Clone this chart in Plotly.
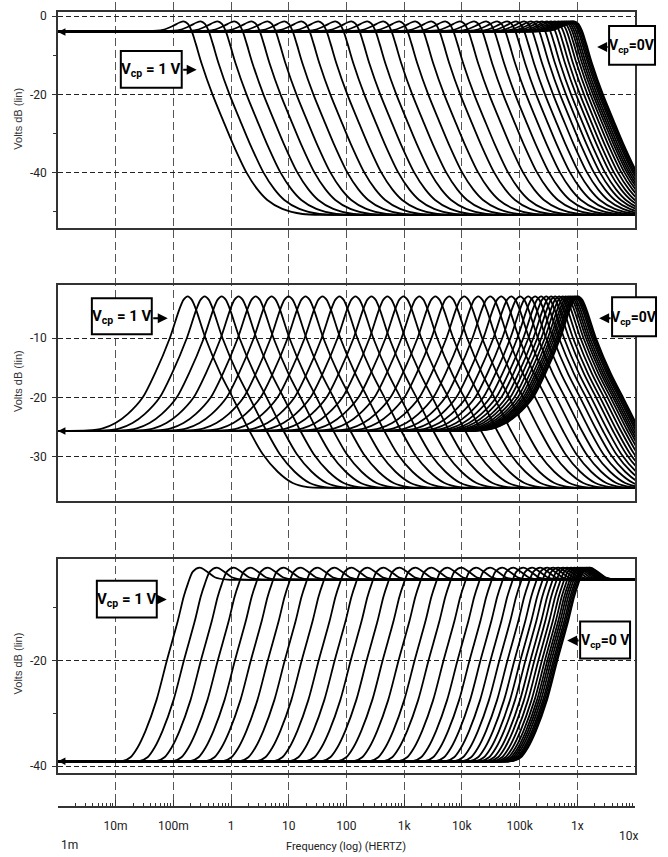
import plotly.graph_objects as go

W, H = 668, 857

# ---------------- data ----------------
# centre / cut-off frequency of every swept curve (Vcp = 1 V ... 0 V)
CENTER_HZ = [0.177, 0.349, 0.688, 1.35, 2.67, 5.04, 9.92, 19.5, 38.4, 75.6,
             143, 271, 512, 969, 1830, 3470, 6050, 11000, 19200, 31000,
             48000, 71600, 102000, 141000, 186000, 236000, 289000, 352000,
             413000, 484000, 557000, 628000, 693000, 751000, 813000, 880000,
             934000, 992000, 1032000]

# measured response shape (offset in decades from the centre frequency, dB)
LP_OFFSET_DEC = [-10, -1.5, -0.70, -0.43, -0.26, -0.14, -0.07, 0.0, 0.07, 0.14,
                 0.24, 0.43, 0.61, 0.78, 1.02, 1.21, 1.38, 1.64, 1.99, 2.42, 3.5, 10]
LP_DB = [-3.85, -3.85, -3.85, -3.5, -2.5, -1.6, -1.3, -1.9, -3.8, -7.0,
         -12.0, -20.0, -26.5, -32.5, -40.0, -44.3, -47.0, -49.3, -50.6, -50.8, -50.8, -50.8]

BP_OFFSET_DEC = [-10, -3.0, -1.73, -1.47, -1.25, -1.04, -0.78, -0.57, -0.31, -0.15,
                 -0.07, 0.0, 0.07, 0.15, 0.31, 0.57, 0.78, 1.07, 1.30, 1.56,
                 1.82, 2.08, 2.42, 3.5, 10]
BP_DB = [-25.6, -25.6, -25.55, -25.2, -24.3, -22.8, -20.0, -16.0, -10.0, -5.3,
         -3.5, -2.94, -3.5, -5.3, -10.0, -16.0, -20.0, -25.6, -29.5, -32.5,
         -34.4, -35.1, -35.2, -35.2, -35.2]

HP_OFFSET_DEC = [-10, -2.0, -1.12, -0.99, -0.87, -0.73, -0.54, -0.36, -0.17, -0.07,
                 0.0, 0.09, 0.21, 0.35, 0.48, 0.69, 1.5, 10]
HP_DB = [-39.06, -39.06, -39.0, -38.3, -36.5, -33.3, -27.5, -20.0, -12.5, -8.0,
         -5.6, -3.2, -2.45, -3.3, -4.3, -4.7, -4.7, -4.7]

X_TICK_HZ = [1e-2, 1e-1, 1, 10, 100, 1e3, 1e4, 1e5, 1e6, 1e7]
X_TICK_TEXT = ["10m", "100m", "1", "10", "100", "1k", "10k", "100k", "1x", " "]

P1_TICKS = [0, -20, -40]
P2_TICKS = [-10, -20, -30]
P3_TICKS = [-20, -40]

LABEL_1V = "<b>V<sub>cp</sub> = 1 V</b>"
LABEL_0V = "<b>V<sub>cp</sub>=0V</b>"
LABEL_0V_SP = "<b>V<sub>cp</sub>=0 V</b>"

# ---------------- layout helpers ----------------
def pxx(x):
    return x / W

def pxy(y):
    return 1 - y / H

LABFONT = "Roboto, Liberation Sans, sans-serif"
XDOM = [pxx(58), pxx(636)]
LINEC = "#333333"

fig = go.Figure()

# carrier subplot for the full-height vertical grid and the frequency axis
fig.add_trace(go.Scatter(x=[1e-3, 1e7], y=[0, 0], mode="lines",
                         line=dict(color="rgba(0,0,0,0)"), hoverinfo="skip",
                         showlegend=False, xaxis="x", yaxis="y"))

panels = [
    ("x2", "y2", LP_OFFSET_DEC, LP_DB),
    ("x3", "y3", BP_OFFSET_DEC, BP_DB),
    ("x4", "y4", HP_OFFSET_DEC, HP_DB),
]
for xa, ya, offs, dbs in panels:
    for fc in CENTER_HZ:
        fig.add_trace(go.Scatter(
            x=[fc * 10 ** o for o in offs], y=dbs, mode="lines",
            line=dict(color="black", width=1.8, shape="spline", smoothing=0.8),
            hoverinfo="skip", showlegend=False, xaxis=xa, yaxis=ya))

common_x = dict(type="log", range=[-3, 7], domain=XDOM)

layout = dict(
    width=W, height=H, margin=dict(l=0, r=0, t=0, b=0),
    paper_bgcolor="white", plot_bgcolor="rgba(0,0,0,0)", showlegend=False,
    xaxis=dict(**common_x, anchor="y", tickmode="array", tickvals=X_TICK_HZ,
               ticktext=X_TICK_TEXT, showgrid=True, gridcolor="#555555",
               griddash="8px,4px", gridwidth=1, showline=True, linecolor=LINEC,
               linewidth=1.5, ticks="inside", ticklen=6, tickcolor=LINEC,
               tickfont=dict(family=LABFONT, size=12, color="#222222"),
               ticklabelstandoff=8, zeroline=False,
               minor=dict(dtick="D1", ticks="inside", ticklen=3, tickcolor=LINEC,
                          showgrid=False)),
    yaxis=dict(domain=[pxy(806), 1.0], range=[0, 1], visible=False),
)

panel_geom = [
    (10, 227, [-54.3, 1.1], P1_TICKS, [-10, -30, -50]),
    (284, 500, [-37.4, -1.09], P2_TICKS, []),
    (558, 773, [-41.32, -0.75], P3_TICKS, [-10, -30]),
]
for i, (top, bot, rng, tv, minor_v) in enumerate(panel_geom):
    n = i + 2
    layout[f"xaxis{n}"] = dict(**common_x, anchor=f"y{n}", showgrid=False,
                               showticklabels=False, ticks="", showline=True,
                               mirror=True, linecolor=LINEC, linewidth=1.5,
                               zeroline=False)
    ydict = dict(domain=[pxy(bot), pxy(top)], range=rng, anchor=f"x{n}",
                 tickmode="array", tickvals=tv, ticktext=[str(v) for v in tv],
                 showgrid=True, gridcolor="#222222", griddash="5px,3px",
                 gridwidth=1, showline=True, mirror=True, linecolor=LINEC,
                 linewidth=1.5, ticks="outside", ticklen=4, tickcolor=LINEC,
                 tickfont=dict(family=LABFONT, size=12, color="#222222"),
                 ticklabelstandoff=3, zeroline=False)
    if minor_v:
        ydict["minor"] = dict(tickvals=minor_v, ticks="outside", ticklen=3,
                              tickcolor=LINEC, showgrid=False)
    layout[f"yaxis{n}"] = ydict

annotations = []
shapes = []

def label_box(text, x0, x1, y0, y1, tip_x, tip_y, size=15):
    shapes.append(dict(type="rect", xref="paper", yref="paper",
                       x0=pxx(x0), x1=pxx(x1), y0=pxy(y1), y1=pxy(y0),
                       line=dict(color="black", width=2), fillcolor="white",
                       layer="above"))
    annotations.append(dict(
        xref="paper", yref="paper", x=pxx((x0 + x1) / 2), y=pxy((y0 + y1) / 2 + 1),
        xanchor="center", yanchor="middle", text=text, showarrow=False,
        font=dict(family=LABFONT, size=size, color="black")))
    edge = x1 if tip_x > x1 else x0
    annotations.append(dict(
        xref="paper", yref="paper", x=pxx(tip_x), y=pxy(tip_y), text="",
        showarrow=True, ax=edge - tip_x, ay=0, arrowhead=2, arrowsize=1,
        arrowwidth=2, arrowcolor="black", standoff=0))

def edge_arrow(tip_y):
    annotations.append(dict(
        xref="paper", yref="paper", x=pxx(58), y=pxy(tip_y), text="",
        showarrow=True, ax=32, ay=0, arrowhead=2, arrowsize=1, arrowwidth=1.5,
        arrowcolor="black", standoff=0))

label_box(LABEL_1V, 121, 182, 49, 86, 197, 68)
label_box(LABEL_0V, 610, 656, 24, 63, 598, 45, size=14)
label_box(LABEL_1V, 92, 152, 297, 333, 168, 317)
label_box(LABEL_0V, 613, 657, 296, 335, 600, 317, size=14)
label_box(LABEL_1V, 97, 157, 580, 617, 167, 599)
label_box(LABEL_0V_SP, 581, 631, 621, 658, 568, 640, size=14)

edge_arrow(30)
edge_arrow(430)
edge_arrow(761)

for yc in (117, 380, 663):
    annotations.append(dict(xref="paper", yref="paper", x=pxx(18), y=pxy(yc),
                            xanchor="center", yanchor="middle",
                            text="Volts dB (lin)", showarrow=False, textangle=-90,
                            font=dict(family="Liberation Sans, Arial, sans-serif",
                                      size=11, color="#333333")))

bottom_font = dict(family=LABFONT, size=12, color="#222222")
annotations.append(dict(xref="paper", yref="paper", x=pxx(59), y=pxy(845),
                        xanchor="left", yanchor="middle", text="1m",
                        showarrow=False, font=bottom_font))
annotations.append(dict(xref="paper", yref="paper", x=pxx(629), y=pxy(836),
                        xanchor="center", yanchor="middle", text="10x",
                        showarrow=False, font=bottom_font))
annotations.append(dict(xref="paper", yref="paper", x=pxx(347), y=pxy(846),
                        xanchor="center", yanchor="middle",
                        text="Frequency (log) (HERTZ)", showarrow=False,
                        font=dict(family=LABFONT, size=11, color="#222222")))

layout["annotations"] = annotations
layout["shapes"] = shapes
fig.update_layout(**layout)

fig.write_html("out.html")
